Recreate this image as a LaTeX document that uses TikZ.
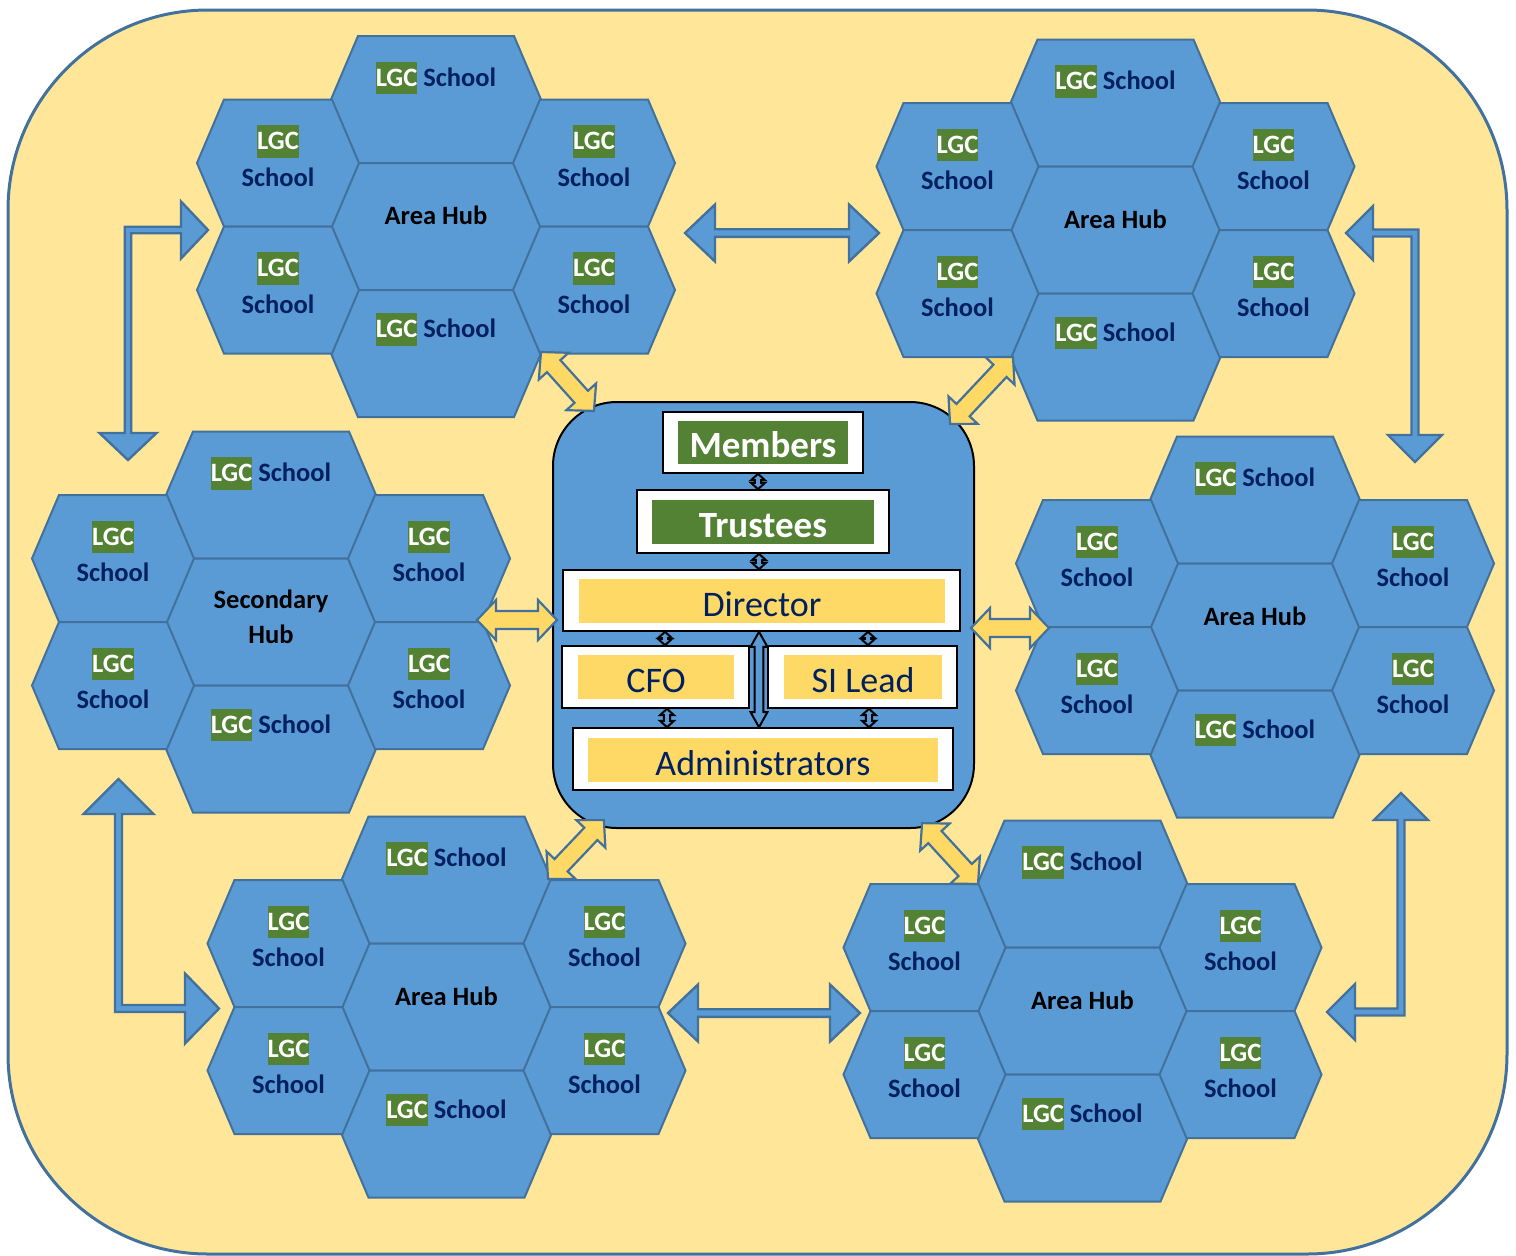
\documentclass[tikz,border=0pt]{standalone}
\usepackage{fontspec}
\setmainfont{Carlito}
\usetikzlibrary{calc}
\definecolor{bgyellow}{HTML}{FFE699}
\definecolor{edgeblue}{HTML}{41719C}
\definecolor{hexblue}{HTML}{5B9BD5}
\definecolor{lgcgreen}{HTML}{548235}
\definecolor{navy}{HTML}{002060}
\definecolor{boxyellow}{HTML}{FFD966}

\newcommand{\lgctag}{{\setlength{\fboxsep}{0pt}\colorbox{lgcgreen}{\textcolor{white}{\rule[-3.9pt]{0pt}{16.2pt}LGC}}}}

\newcommand{\hexcell}[3]{\draw[hexfill] ({#1-#3},{#2}) -- ({#1-#3+27},{#2-63.5}) -- ({#1+#3-27},{#2-63.5}) -- ({#1+#3},{#2}) -- ({#1+#3-27},{#2+63.5}) -- ({#1-#3+27},{#2+63.5}) -- cycle;}

\newcommand{\hubcluster}[5]{%
 \begin{scope}[shift={(#2,#3)}]
  \hexcell{0}{-127}{105}\hexcell{0}{0}{105}\hexcell{0}{127}{105}
  \hexcell{-158}{-63.5}{81}\hexcell{-158}{63.5}{81}\hexcell{158}{-63.5}{81}\hexcell{158}{63.5}{81}
  \node[hubtext] (#1-hub) at (0,#5) {#4};
  \node[schooltext] (#1-top) at (0,-148.5) {\lgctag\ School};
  \node[schooltext] (#1-bot) at (0,103) {\lgctag\ School};
  \node[tagtext] (#1-ult) at (-158,-85) {\lgctag};
  \node[schooltext] (#1-uls) at (-158,-49.5) {School};
  \node[tagtext] (#1-llt) at (-158,42) {\lgctag};
  \node[schooltext] (#1-lls) at (-158,77.5) {School};
  \node[tagtext] (#1-urt) at (158,-85) {\lgctag};
  \node[schooltext] (#1-urs) at (158,-49.5) {School};
  \node[tagtext] (#1-lrt) at (158,42) {\lgctag};
  \node[schooltext] (#1-lrs) at (158,77.5) {School};
 \end{scope}}

\newcommand{\dblockarrow}[6]{%
  \path let \p1=#2, \p2=#3, \n1={atan2(\y2-\y1,\x2-\x1)}, \n2={veclen(\x2-\x1,\y2-\y1)} in \pgfextra{\pgfmathparse{\n1}\xdef\baAng{\pgfmathresult}\pgfmathparse{\n2}\xdef\baLen{\pgfmathresult}};
  \begin{scope}[shift={#2}, rotate=\baAng, x=1pt, y=1pt]
    \draw[#1] (0,0) -- (#6,#5) -- (#6,#4) -- ({\baLen-#6},#4) -- ({\baLen-#6},#5) -- (\baLen,0) -- ({\baLen-#6},-#5) -- ({\baLen-#6},-#4) -- (#6,-#4) -- (#6,-#5) -- cycle;
  \end{scope}}

\begin{document}
\begin{tikzpicture}[x=0.5pt,y=-0.5pt,
  bgframe/.style={fill=bgyellow, draw=edgeblue, line width=1.5pt, rounded corners=100pt},
  hexfill/.style={fill=hexblue, draw=edgeblue, line width=1pt, line join=miter},
  hubtext/.style={inner sep=0pt, font=\fontsize{13.25}{17.5}\selectfont\bfseries, text=black, align=center},
  schooltext/.style={inner sep=0pt, font=\fontsize{13.25}{16}\selectfont\bfseries, text=navy},
  tagtext/.style={inner sep=0pt, font=\fontsize{13.25}{16}\selectfont\bfseries},
  bluearrow/.style={fill=hexblue, draw=edgeblue, line width=1.2pt, line join=miter},
  yellowarrow/.style={fill=boxyellow, draw=edgeblue, line width=1.1pt, line join=miter},
  smallarrow/.style={fill=hexblue, draw=black, line width=1pt, line join=miter},
  corebox/.style={fill=hexblue, draw=black, line width=1pt, rounded corners=32pt, inner sep=0pt},
  outerbox/.style={fill=white, draw=black, line width=0.8pt, inner sep=0pt},
  greenbar/.style={fill=lgcgreen, text=white, font=\fontsize{18.5}{22}\selectfont\bfseries, inner sep=0pt, text height=15pt, text depth=0pt},
  yellowbar/.style={fill=boxyellow, text=navy, font=\fontsize{18}{22}\selectfont, inner sep=0pt, text height=15pt, text depth=0pt}
]
\useasboundingbox (0,0) rectangle (1516,1255);
\draw[bgframe] (8,10) rectangle (1507,1254);

% hub clusters
\hubcluster{tl}{436}{226.5}{Area Hub}{-11}
\hubcluster{tr}{1115.5}{230}{Area Hub}{-11}
\hubcluster{ml}{271}{622}{Secondary\\Hub}{-5.5}
\hubcluster{mr}{1255}{627}{Area Hub}{-11}
\hubcluster{bl}{446.5}{1007}{Area Hub}{-11}
\hubcluster{br}{1082.5}{1011}{Area Hub}{-11}

% blue elbow arrows
\draw[bluearrow] (208,230) -- (181,258.5) -- (181,233.25) -- (131.25,233.25) -- (131.25,433) -- (156.5,433) -- (128,460) -- (99.5,433) -- (124.75,433) -- (124.75,226.75) -- (181,226.75) -- (181,201.5) -- cycle;
\draw[bluearrow] (1346,233) -- (1373,206) -- (1373,229.5) -- (1418.5,229.5) -- (1418.5,435) -- (1442,435) -- (1415,462) -- (1388,435) -- (1411.5,435) -- (1411.5,236.5) -- (1373,236.5) -- (1373,260) -- cycle;
\draw[bluearrow] (118.5,779) -- (153.5,814) -- (122,814) -- (122,1005) -- (185,1005) -- (185,973.5) -- (219,1008.5) -- (185,1043.5) -- (185,1012) -- (115,1012) -- (115,814) -- (83.5,814) -- cycle;
\draw[bluearrow] (1401,793) -- (1428,820) -- (1404.5,820) -- (1404.5,1015.5) -- (1355,1015.5) -- (1355,1040) -- (1327,1012) -- (1355,984) -- (1355,1008.5) -- (1397.5,1008.5) -- (1397.5,820) -- (1374,820) -- cycle;

% straight blue arrows
\coordinate (tl-e) at (685,233);
\coordinate (tr-w) at (879,233);
\coordinate (bl-e) at (668,1013);
\coordinate (br-w) at (860,1013);
\dblockarrow{bluearrow}{(tl-e)}{(tr-w)}{1.9}{14.25}{15}
\dblockarrow{bluearrow}{(bl-e)}{(br-w)}{1.9}{14.25}{15}

% central governance box
\node[corebox, minimum width=210.5pt, minimum height=213pt] (core) at (763.5,615) {};
\node[outerbox, minimum width=100pt, minimum height=30.5pt] (members) at (763,442.5) {};
\node[greenbar, minimum width=85pt, minimum height=21.5pt] (memberslbl) at (763,442.5) {Members};
\node[outerbox, minimum width=126pt, minimum height=31.5pt] (trustees) at (763,521.5) {};
\node[greenbar, minimum width=111pt, minimum height=22pt] (trusteeslbl) at (763,522) {Trustees};
\node[outerbox, minimum width=198.5pt, minimum height=30.5pt] (director) at (761.5,600.5) {};
\node[yellowbar, minimum width=183pt, minimum height=22pt] (directorlbl) at (762,601) {Director};
\node[outerbox, minimum width=93.5pt, minimum height=31pt] (cfo) at (655.5,677) {};
\node[yellowbar, minimum width=78pt, minimum height=22pt] (cfolbl) at (656,677) {CFO};
\node[outerbox, minimum width=94.5pt, minimum height=31pt] (si) at (862.5,677) {};
\node[yellowbar, minimum width=79pt, minimum height=22pt] (silbl) at (863,677) {SI Lead};
\node[outerbox, minimum width=190pt, minimum height=31pt] (admin) at (763,759) {};
\node[yellowbar, minimum width=175pt, minimum height=22pt] (adminlbl) at (763,760) {Administrators};

% small internal arrows
\coordinate (mt) at ($(members.south)+(-5,0)$);
\coordinate (td) at ($(trustees.south)+(-4,0)$);
\coordinate (dc) at ($(cfo.north)+(9.5,0)$);
\coordinate (ds) at ($(si.north)+(5.5,0)$);
\coordinate (ca) at ($(cfo.south)+(11.5,0)$);
\coordinate (sa) at ($(si.south)+(6.5,0)$);
\coordinate (da) at ($(director.south)+(-2.5,0)$);
\dblockarrow{smallarrow}{(mt)}{(mt |- trustees.north)}{1.6}{3.5}{3.2}
\dblockarrow{smallarrow}{(td)}{(td |- director.north)}{1.6}{3.5}{3.2}
\dblockarrow{smallarrow}{(dc |- director.south)}{(dc)}{1.6}{3.5}{3.2}
\dblockarrow{smallarrow}{(ds |- director.south)}{(ds)}{1.6}{3.5}{3.2}
\dblockarrow{smallarrow}{(ca)}{(ca |- admin.north)}{1.6}{3.5}{3.2}
\dblockarrow{smallarrow}{(sa)}{(sa |- admin.north)}{1.6}{3.5}{3.2}
\dblockarrow{smallarrow}{(da)}{(da |- admin.north)}{2.2}{4.2}{7.5}

% yellow arrows between hubs and centre
\coordinate (ml-e) at (477,620);
\coordinate (core-w) at (557,620);
\coordinate (mr-w) at (1049,628);
\coordinate (core-e) at (971,628);
\coordinate (tl-se) at (541,352);
\coordinate (core-nw) at (594,411);
\coordinate (tr-sw) at (1013,357);
\coordinate (core-ne) at (950,424);
\coordinate (bl-ne) at (548,879);
\coordinate (core-sw) at (604,820);
\coordinate (br-nw) at (978,884);
\coordinate (core-se) at (922,823);
\dblockarrow{yellowarrow}{(ml-e)}{(core-w)}{4.5}{10}{9.5}
\dblockarrow{yellowarrow}{(core-e)}{(mr-w)}{4.5}{10}{9.5}
\dblockarrow{yellowarrow}{(tl-se)}{(core-nw)}{4.5}{10}{9.5}
\dblockarrow{yellowarrow}{(tr-sw)}{(core-ne)}{4.5}{10}{9.5}
\dblockarrow{yellowarrow}{(bl-ne)}{(core-sw)}{4.5}{10}{9.5}
\dblockarrow{yellowarrow}{(br-nw)}{(core-se)}{4.5}{10}{9.5}
\end{tikzpicture}
\end{document}
